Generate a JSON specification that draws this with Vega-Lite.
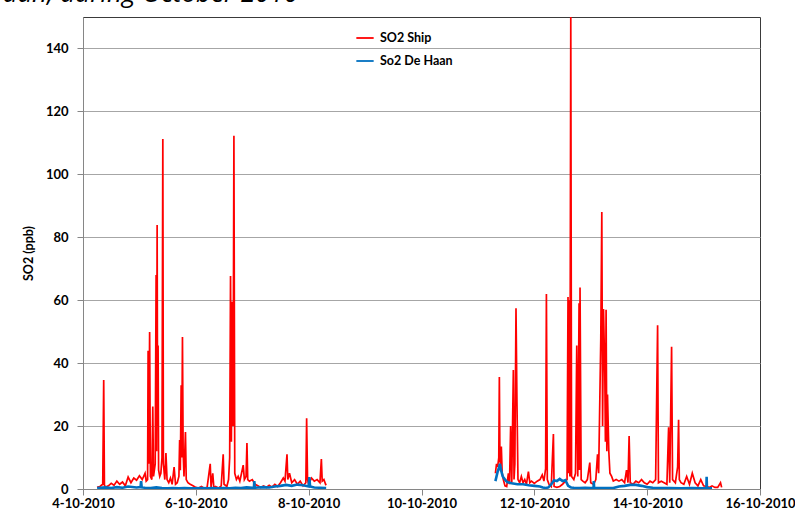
{
  "$schema": "https://vega.github.io/schema/vega-lite/v6.json",
  "autosize": {"type": "none"},
  "width": 677,
  "height": 472,
  "padding": {"left": 83, "top": 17, "right": 35, "bottom": 35},
  "background": "white",
  "title": {
    "text": "Haan, during October 2010",
    "anchor": "start",
    "frame": "group",
    "baseline": "alphabetic",
    "offset": 5,
    "dx": -98,
    "dy": 16,
    "font": "Open Sans",
    "fontStyle": "italic",
    "fontWeight": "normal",
    "fontSize": 26,
    "color": "#000000"
  },
  "config": {
    "view": {"stroke": "#3a3a3a", "strokeWidth": 1},
    "font": "Lato",
    "axis": {
      "labelFont": "Lato",
      "labelFontWeight": "bold",
      "labelFontSize": 13,
      "labelColor": "#000000",
      "titleFont": "Lato",
      "titleFontWeight": "bold",
      "titleFontSize": 12.5,
      "titleColor": "#000000",
      "domainColor": "#868686",
      "tickColor": "#868686",
      "gridColor": "#a6a6a6",
      "gridWidth": 1.2
    },
    "legend": {
      "labelFont": "Lato",
      "labelFontWeight": "bold",
      "labelFontSize": 12.5,
      "labelColor": "#000000"
    }
  },
  "datasets": {
    "ship": [
      {"g":1,"x":4.25,"v":0.5},{"g":1,"x":4.30,"v":0.8},{"g":1,"x":4.35,"v":1.5},{"g":1,"x":4.367,"v":34.6},{"g":1,"x":4.38,"v":1.2},
      {"g":1,"x":4.40,"v":0.6},{"g":1,"x":4.45,"v":1.0},{"g":1,"x":4.50,"v":1.8},{"g":1,"x":4.55,"v":1.2},{"g":1,"x":4.60,"v":2.5},
      {"g":1,"x":4.65,"v":1.5},{"g":1,"x":4.70,"v":2.2},{"g":1,"x":4.75,"v":1.0},{"g":1,"x":4.80,"v":3.8},{"g":1,"x":4.85,"v":2.0},
      {"g":1,"x":4.90,"v":3.5},{"g":1,"x":4.95,"v":2.8},{"g":1,"x":5.00,"v":4.2},{"g":1,"x":5.05,"v":3.0},{"g":1,"x":5.10,"v":5.0},
      {"g":1,"x":5.12,"v":2.5},{"g":1,"x":5.145,"v":3.0},{"g":1,"x":5.154,"v":43.9},{"g":1,"x":5.165,"v":8},{"g":1,"x":5.181,"v":49.9},
      {"g":1,"x":5.195,"v":4},{"g":1,"x":5.22,"v":3.0},{"g":1,"x":5.237,"v":26.2},{"g":1,"x":5.25,"v":4},{"g":1,"x":5.28,"v":8},
      {"g":1,"x":5.296,"v":68},{"g":1,"x":5.305,"v":12},{"g":1,"x":5.314,"v":83.9},{"g":1,"x":5.322,"v":20},{"g":1,"x":5.331,"v":45.6},
      {"g":1,"x":5.34,"v":6},{"g":1,"x":5.36,"v":4},{"g":1,"x":5.38,"v":5},{"g":1,"x":5.40,"v":10},{"g":1,"x":5.415,"v":111.2},
      {"g":1,"x":5.425,"v":8},{"g":1,"x":5.45,"v":3},{"g":1,"x":5.47,"v":11.4},{"g":1,"x":5.49,"v":3},{"g":1,"x":5.52,"v":2},
      {"g":1,"x":5.55,"v":3.5},{"g":1,"x":5.58,"v":1.5},{"g":1,"x":5.615,"v":7},{"g":1,"x":5.64,"v":1.5},{"g":1,"x":5.67,"v":2},
      {"g":1,"x":5.70,"v":4},{"g":1,"x":5.713,"v":15.6},{"g":1,"x":5.725,"v":6},{"g":1,"x":5.74,"v":33},{"g":1,"x":5.75,"v":10},
      {"g":1,"x":5.763,"v":48.3},{"g":1,"x":5.775,"v":12},{"g":1,"x":5.79,"v":4},{"g":1,"x":5.816,"v":18.1},{"g":1,"x":5.83,"v":3},
      {"g":1,"x":5.86,"v":2},{"g":1,"x":5.90,"v":1.5},{"g":1,"x":5.95,"v":1.0},{"g":1,"x":6.00,"v":0.5},{"g":1,"x":6.05,"v":0.3},
      {"g":1,"x":6.10,"v":0.8},{"g":1,"x":6.15,"v":0.2},{"g":1,"x":6.20,"v":0.5},{"g":1,"x":6.255,"v":8},{"g":1,"x":6.27,"v":0.5},
      {"g":1,"x":6.30,"v":5},{"g":1,"x":6.32,"v":0.3},{"g":1,"x":6.35,"v":0.8},{"g":1,"x":6.40,"v":0.3},{"g":1,"x":6.45,"v":1.0},
      {"g":1,"x":6.485,"v":11},{"g":1,"x":6.50,"v":1.5},{"g":1,"x":6.55,"v":0.8},{"g":1,"x":6.58,"v":3},{"g":1,"x":6.60,"v":10},
      {"g":1,"x":6.615,"v":67.7},{"g":1,"x":6.63,"v":15},{"g":1,"x":6.645,"v":59.5},{"g":1,"x":6.66,"v":20},{"g":1,"x":6.675,"v":112.3},
      {"g":1,"x":6.69,"v":5},{"g":1,"x":6.72,"v":3},{"g":1,"x":6.75,"v":4},{"g":1,"x":6.78,"v":2.5},{"g":1,"x":6.81,"v":5},
      {"g":1,"x":6.84,"v":7.6},{"g":1,"x":6.86,"v":3},{"g":1,"x":6.89,"v":4},{"g":1,"x":6.906,"v":14.6},{"g":1,"x":6.92,"v":3},
      {"g":1,"x":6.95,"v":2.5},{"g":1,"x":7.00,"v":3},{"g":1,"x":7.05,"v":1.5},{"g":1,"x":7.10,"v":1.0},{"g":1,"x":7.15,"v":0.5},
      {"g":1,"x":7.20,"v":1.0},{"g":1,"x":7.25,"v":0.5},{"g":1,"x":7.30,"v":1.2},{"g":1,"x":7.35,"v":0.6},{"g":1,"x":7.40,"v":1.5},
      {"g":1,"x":7.45,"v":0.8},{"g":1,"x":7.50,"v":2.0},{"g":1,"x":7.55,"v":3.5},{"g":1,"x":7.58,"v":2.5},{"g":1,"x":7.616,"v":11},
      {"g":1,"x":7.63,"v":3},{"g":1,"x":7.66,"v":5},{"g":1,"x":7.70,"v":2.0},{"g":1,"x":7.75,"v":3.0},{"g":1,"x":7.80,"v":1.5},
      {"g":1,"x":7.85,"v":2.5},{"g":1,"x":7.90,"v":1.0},{"g":1,"x":7.95,"v":2.0},{"g":1,"x":7.964,"v":22.5},{"g":1,"x":7.98,"v":3},
      {"g":1,"x":8.00,"v":1.5},{"g":1,"x":8.05,"v":3.5},{"g":1,"x":8.10,"v":2.5},{"g":1,"x":8.15,"v":3.0},{"g":1,"x":8.20,"v":2.0},
      {"g":1,"x":8.225,"v":9.5},{"g":1,"x":8.24,"v":2.5},{"g":1,"x":8.27,"v":3.0},{"g":1,"x":8.30,"v":1.5},{"g":1,"x":8.31,"v":1.2},
      {"g":2,"x":11.31,"v":5},{"g":2,"x":11.33,"v":8},{"g":2,"x":11.35,"v":7},{"g":2,"x":11.37,"v":10},{"g":2,"x":11.38,"v":35.6},
      {"g":2,"x":11.39,"v":9},{"g":2,"x":11.40,"v":8},{"g":2,"x":11.415,"v":13.5},{"g":2,"x":11.43,"v":5},{"g":2,"x":11.45,"v":3},
      {"g":2,"x":11.48,"v":1.0},{"g":2,"x":11.51,"v":0.8},{"g":2,"x":11.54,"v":5},{"g":2,"x":11.56,"v":1.5},{"g":2,"x":11.58,"v":20},
      {"g":2,"x":11.60,"v":2},{"g":2,"x":11.628,"v":37.8},{"g":2,"x":11.64,"v":3},{"g":2,"x":11.655,"v":8},{"g":2,"x":11.675,"v":57.4},
      {"g":2,"x":11.692,"v":27.6},{"g":2,"x":11.71,"v":3},{"g":2,"x":11.74,"v":2},{"g":2,"x":11.77,"v":4},{"g":2,"x":11.80,"v":2},
      {"g":2,"x":11.83,"v":3},{"g":2,"x":11.86,"v":1.5},{"g":2,"x":11.895,"v":5.5},{"g":2,"x":11.92,"v":2},{"g":2,"x":11.95,"v":2.5},
      {"g":2,"x":12.00,"v":1.8},{"g":2,"x":12.05,"v":2.5},{"g":2,"x":12.10,"v":3},{"g":2,"x":12.14,"v":4.5},{"g":2,"x":12.17,"v":2.5},
      {"g":2,"x":12.20,"v":6.5},{"g":2,"x":12.214,"v":62},{"g":2,"x":12.23,"v":3},{"g":2,"x":12.26,"v":1.5},{"g":2,"x":12.30,"v":0.8},
      {"g":2,"x":12.338,"v":17.5},{"g":2,"x":12.35,"v":0.8},{"g":2,"x":12.40,"v":0.5},{"g":2,"x":12.45,"v":0.8},{"g":2,"x":12.50,"v":1.5},
      {"g":2,"x":12.55,"v":2.5},{"g":2,"x":12.58,"v":3},{"g":2,"x":12.597,"v":61},{"g":2,"x":12.61,"v":5},{"g":2,"x":12.615,"v":60},
      {"g":2,"x":12.63,"v":4},{"g":2,"x":12.646,"v":150},{"g":2,"x":12.66,"v":4},{"g":2,"x":12.70,"v":3},{"g":2,"x":12.73,"v":5},
      {"g":2,"x":12.752,"v":45.6},{"g":2,"x":12.77,"v":4},{"g":2,"x":12.793,"v":59},{"g":2,"x":12.80,"v":6},{"g":2,"x":12.81,"v":64},
      {"g":2,"x":12.83,"v":3},{"g":2,"x":12.86,"v":2.5},{"g":2,"x":12.90,"v":2},{"g":2,"x":12.94,"v":3},{"g":2,"x":12.983,"v":8.4},
      {"g":2,"x":13.00,"v":2},{"g":2,"x":13.05,"v":1.5},{"g":2,"x":13.09,"v":3},{"g":2,"x":13.12,"v":11},{"g":2,"x":13.14,"v":5},
      {"g":2,"x":13.155,"v":22},{"g":2,"x":13.178,"v":48},{"g":2,"x":13.196,"v":88},{"g":2,"x":13.21,"v":20},{"g":2,"x":13.226,"v":57.2},
      {"g":2,"x":13.249,"v":37},{"g":2,"x":13.26,"v":15},{"g":2,"x":13.272,"v":57},{"g":2,"x":13.285,"v":12},{"g":2,"x":13.297,"v":30},
      {"g":2,"x":13.32,"v":12},{"g":2,"x":13.34,"v":5},{"g":2,"x":13.37,"v":4},{"g":2,"x":13.40,"v":2.5},{"g":2,"x":13.45,"v":3},
      {"g":2,"x":13.50,"v":2.5},{"g":2,"x":13.55,"v":3},{"g":2,"x":13.60,"v":2},{"g":2,"x":13.634,"v":6},{"g":2,"x":13.66,"v":2},
      {"g":2,"x":13.68,"v":16.8},{"g":2,"x":13.70,"v":2},{"g":2,"x":13.75,"v":1.5},{"g":2,"x":13.80,"v":2.5},{"g":2,"x":13.85,"v":2},
      {"g":2,"x":13.90,"v":3},{"g":2,"x":13.95,"v":2},{"g":2,"x":14.00,"v":1.5},{"g":2,"x":14.05,"v":2.5},{"g":2,"x":14.10,"v":2},
      {"g":2,"x":14.15,"v":3},{"g":2,"x":14.185,"v":52},{"g":2,"x":14.20,"v":2},{"g":2,"x":14.25,"v":2.5},{"g":2,"x":14.30,"v":2},
      {"g":2,"x":14.35,"v":1.5},{"g":2,"x":14.38,"v":19.6},{"g":2,"x":14.40,"v":2},{"g":2,"x":14.433,"v":45.2},{"g":2,"x":14.45,"v":3},
      {"g":2,"x":14.50,"v":2},{"g":2,"x":14.54,"v":7},{"g":2,"x":14.557,"v":22},{"g":2,"x":14.57,"v":3},{"g":2,"x":14.60,"v":2},
      {"g":2,"x":14.65,"v":1.5},{"g":2,"x":14.70,"v":4},{"g":2,"x":14.75,"v":1.5},{"g":2,"x":14.80,"v":5},{"g":2,"x":14.85,"v":2},
      {"g":2,"x":14.90,"v":1},{"g":2,"x":14.95,"v":3},{"g":2,"x":15.00,"v":1},{"g":2,"x":15.05,"v":0.8},{"g":2,"x":15.10,"v":0.5},
      {"g":2,"x":15.15,"v":1},{"g":2,"x":15.20,"v":0.5},{"g":2,"x":15.25,"v":0.5},{"g":2,"x":15.30,"v":2},{"g":2,"x":15.32,"v":0.5}
    ],
    "haan": [
      {"g":1,"x":4.25,"v":0.3},{"g":1,"x":4.40,"v":0.5},{"g":1,"x":4.50,"v":0.3},{"g":1,"x":4.60,"v":0.6},{"g":1,"x":4.70,"v":0.4},
      {"g":1,"x":4.80,"v":0.8},{"g":1,"x":4.95,"v":0.5},{"g":1,"x":5.02,"v":0.6},{"g":1,"x":5.03,"v":2.5},{"g":1,"x":5.04,"v":0.5},
      {"g":1,"x":5.10,"v":0.4},{"g":1,"x":5.20,"v":0.3},{"g":1,"x":5.30,"v":0.5},{"g":1,"x":5.40,"v":0.3},{"g":1,"x":5.50,"v":0.2},
      {"g":1,"x":5.60,"v":0.3},{"g":1,"x":5.70,"v":0.2},{"g":1,"x":5.80,"v":0.3},{"g":1,"x":5.90,"v":0.2},{"g":1,"x":6.00,"v":0.2},
      {"g":1,"x":6.10,"v":0.3},{"g":1,"x":6.20,"v":0.2},{"g":1,"x":6.30,"v":0.3},{"g":1,"x":6.40,"v":0.2},{"g":1,"x":6.50,"v":0.3},
      {"g":1,"x":6.60,"v":0.2},{"g":1,"x":6.70,"v":0.4},{"g":1,"x":6.80,"v":0.3},{"g":1,"x":6.90,"v":0.5},{"g":1,"x":7.00,"v":0.4},
      {"g":1,"x":7.03,"v":0.4},{"g":1,"x":7.036,"v":2.5},{"g":1,"x":7.045,"v":0.4},{"g":1,"x":7.10,"v":0.5},{"g":1,"x":7.20,"v":0.6},
      {"g":1,"x":7.30,"v":0.5},{"g":1,"x":7.40,"v":0.8},{"g":1,"x":7.50,"v":1.0},{"g":1,"x":7.60,"v":1.3},{"g":1,"x":7.70,"v":1.0},
      {"g":1,"x":7.80,"v":1.4},{"g":1,"x":7.90,"v":1.2},{"g":1,"x":8.00,"v":0.8},{"g":1,"x":8.012,"v":3.8},{"g":1,"x":8.025,"v":0.8},
      {"g":1,"x":8.10,"v":0.5},{"g":1,"x":8.20,"v":0.4},{"g":1,"x":8.31,"v":0.3},
      {"g":2,"x":11.31,"v":2.5},{"g":2,"x":11.33,"v":4},{"g":2,"x":11.35,"v":5.5},{"g":2,"x":11.37,"v":6.5},{"g":2,"x":11.39,"v":8},
      {"g":2,"x":11.41,"v":6},{"g":2,"x":11.44,"v":4},{"g":2,"x":11.48,"v":3},{"g":2,"x":11.52,"v":2.2},{"g":2,"x":11.60,"v":1.8},
      {"g":2,"x":11.70,"v":1.5},{"g":2,"x":11.80,"v":1.5},{"g":2,"x":11.90,"v":1.2},{"g":2,"x":12.00,"v":1.0},{"g":2,"x":12.10,"v":0.8},
      {"g":2,"x":12.15,"v":0.5},{"g":2,"x":12.20,"v":0.3},{"g":2,"x":12.25,"v":0.5},{"g":2,"x":12.30,"v":1.5},{"g":2,"x":12.35,"v":2.8},
      {"g":2,"x":12.40,"v":2.5},{"g":2,"x":12.45,"v":3.2},{"g":2,"x":12.50,"v":2.5},{"g":2,"x":12.55,"v":2.8},{"g":2,"x":12.60,"v":1.0},
      {"g":2,"x":12.65,"v":0.5},{"g":2,"x":12.70,"v":0.4},{"g":2,"x":12.80,"v":0.3},{"g":2,"x":12.90,"v":0.4},{"g":2,"x":13.00,"v":0.3},
      {"g":2,"x":13.05,"v":0.3},{"g":2,"x":13.054,"v":2.5},{"g":2,"x":13.06,"v":0.3},{"g":2,"x":13.20,"v":0.3},{"g":2,"x":13.40,"v":0.3},
      {"g":2,"x":13.50,"v":0.8},{"g":2,"x":13.60,"v":1.0},{"g":2,"x":13.70,"v":1.3},{"g":2,"x":13.80,"v":1.3},{"g":2,"x":13.90,"v":1.0},
      {"g":2,"x":14.00,"v":0.6},{"g":2,"x":14.10,"v":0.4},{"g":2,"x":14.20,"v":0.3},{"g":2,"x":14.40,"v":0.3},{"g":2,"x":14.60,"v":0.2},
      {"g":2,"x":14.80,"v":0.3},{"g":2,"x":15.00,"v":0.2},{"g":2,"x":15.05,"v":0.3},{"g":2,"x":15.054,"v":3.9},{"g":2,"x":15.06,"v":0.2},
      {"g":2,"x":15.15,"v":0.2}
    ]
  },
  "encoding": {
    "x": {
      "field": "x",
      "type": "quantitative",
      "scale": {"domain": [4, 16], "nice": false, "zero": false},
      "axis": {
        "values": [4, 6, 8, 10, 12, 14, 16],
        "labelExpr": "datum.value + '-10-2010'",
        "title": null,
        "grid": false,
        "tickSize": 6,
        "labelPadding": 2,
        "labelBound": false,
        "labelOverlap": false,
        "labelFlush": false
      }
    },
    "y": {
      "field": "v",
      "type": "quantitative",
      "scale": {"domain": [0, 150], "nice": false},
      "axis": {
        "values": [0, 20, 40, 60, 80, 100, 120, 140],
        "title": "SO2 (ppb)",
        "titleX": -48,
        "titleY": 236,
        "tickSize": 6,
        "labelPadding": 9,
        "labelBaseline": "middle"
      }
    },
    "detail": {"field": "g", "type": "nominal"}
  },
  "layer": [
    {
      "data": {"name": "ship"},
      "mark": {"type": "line", "strokeWidth": 1.7, "clip": true, "interpolate": "linear"},
      "encoding": {
        "color": {
          "datum": "SO2 Ship",
          "type": "nominal",
          "scale": {"domain": ["SO2 Ship", "So2 De Haan"], "range": ["#ff0000", "#0070c0"]},
          "legend": {
            "title": null,
            "orient": "none",
            "legendX": 272,
            "legendY": 11,
            "symbolType": "stroke",
            "symbolSize": 300,
            "symbolStrokeWidth": 1.8,
            "rowPadding": 6,
            "labelOffset": 5
          }
        }
      }
    },
    {
      "data": {"name": "haan"},
      "mark": {"type": "line", "strokeWidth": 2.6, "clip": true},
      "encoding": {
        "color": {"datum": "So2 De Haan", "type": "nominal"}
      }
    }
  ]
}
